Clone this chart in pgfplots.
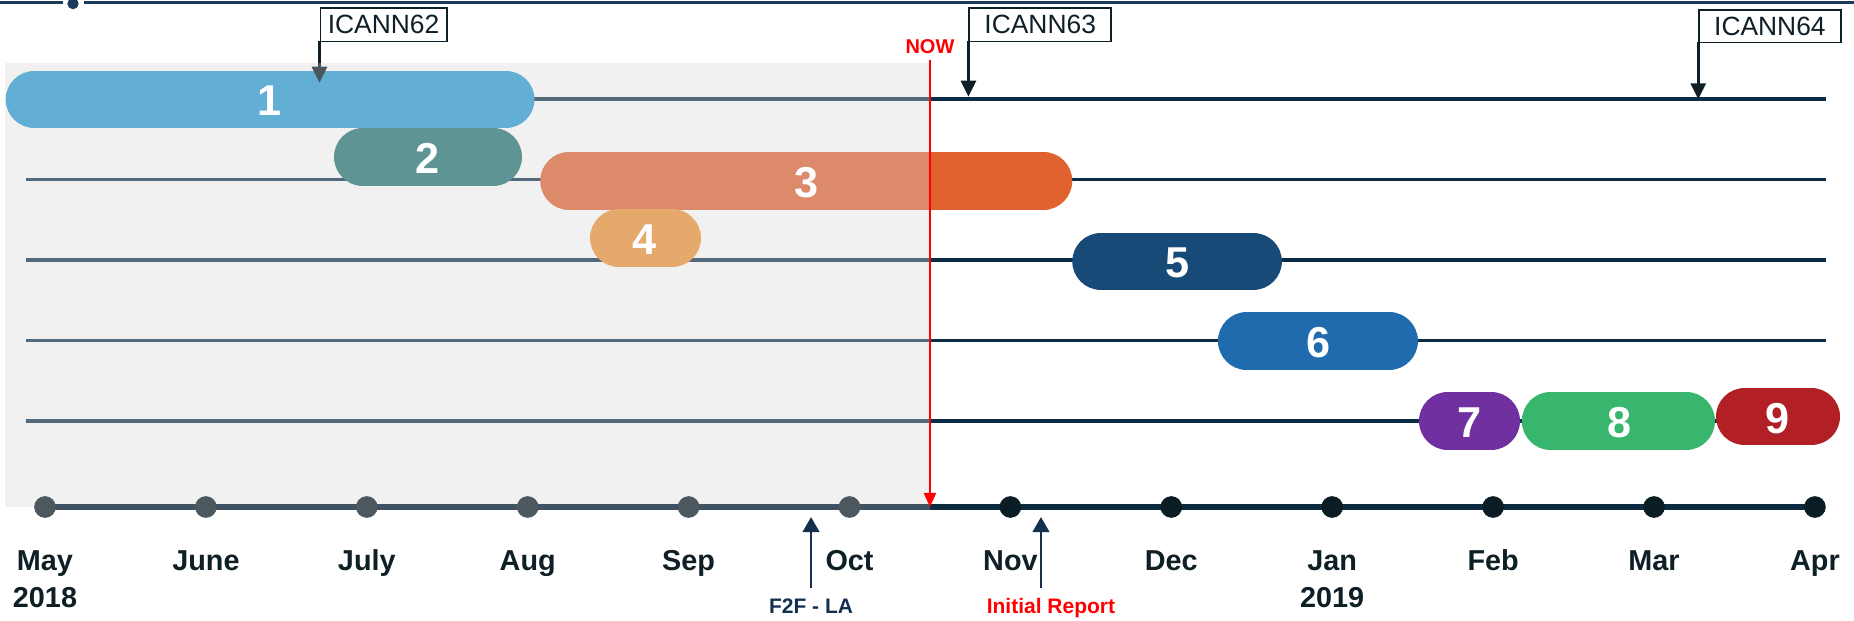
\documentclass[border=0pt]{standalone}
\usepackage{pgfplots}
\pgfplotsset{compat=1.18}
\usepackage{fontspec}
\setmainfont{Liberation Sans}
\usetikzlibrary{arrows.meta}
\definecolor{shade}{HTML}{F1F1F1}
\definecolor{c1}{HTML}{63AED4}
\definecolor{c2}{HTML}{5E9494}
\definecolor{c3l}{HTML}{DC8A69}
\definecolor{c3d}{HTML}{E0622E}
\definecolor{c4}{HTML}{E5A96B}
\definecolor{c5}{HTML}{184A78}
\definecolor{c6}{HTML}{1F6BAE}
\definecolor{c7}{HTML}{7030A0}
\definecolor{c8}{HTML}{38B66D}
\definecolor{c9}{HTML}{B22026}
\definecolor{rowlight}{HTML}{536A7C}
\definecolor{rowdark}{HTML}{0B2C47}
\definecolor{axislight}{HTML}{3F5261}
\definecolor{axisdark}{HTML}{0C2A40}
\definecolor{dotlight}{HTML}{4D585E}
\definecolor{dotdark}{HTML}{0A1D24}
\definecolor{labelc}{HTML}{0E1F26}
\definecolor{f2fc}{HTML}{13304F}
\definecolor{boxc}{HTML}{0F1F28}
\definecolor{arrgray}{HTML}{4A565E}
\definecolor{topc}{HTML}{1B3A5C}
\definecolor{nowc}{HTML}{FF0000}
\tikzset{
  gbar/.style={line width=28.75pt, line cap=round},
  mon/.style={anchor=base, text=labelc, font=\bfseries\fontsize{14.4}{16}\selectfont},
  num/.style={anchor=center, text=white, font=\bfseries\fontsize{21.6}{24}\selectfont},
  icann/.style={draw=boxc, line width=0.8pt, fill=white, minimum height=16.7pt, inner sep=0pt,
     anchor=north west, text=boxc, font=\fontsize{13.2}{15}\selectfont},
}
\begin{document}
\begin{tikzpicture}
\begin{axis}[
  width=927pt, height=310.5pt, scale only axis,
  xmin=-0.2797, xmax=11.2430, ymin=-0.235, ymax=7.489, y dir=reverse,
  hide axis, clip=true,
]
% top decoration
\addplot[line width=1.5pt, topc, no marks] coordinates {(-0.2797,-0.2015) (0.112,-0.2015)};
\addplot[line width=1.5pt, topc, no marks] coordinates {(0.242,-0.2015) (11.243,-0.2015)};
\addplot[only marks, mark=*, mark size=2.6pt, topc] coordinates {(0.174,-0.19)};
% past shading
\addplot[fill=shade, draw=none, no marks] coordinates {(-0.25,0.545) (5.5,0.545) (5.5,6.071) (-0.25,6.071)} -- cycle;
% row lines
\addplot[line width=1.8pt, rowlight, no marks] coordinates {(2.8,1) (5.5,1)};
\addplot[line width=1.8pt, rowdark, no marks] coordinates {(5.5,1) (11.069,1)};
\addplot[line width=1.8pt, rowlight, no marks] coordinates {(-0.118,2) (5.5,2)};
\addplot[line width=1.8pt, rowdark, no marks] coordinates {(5.5,2) (11.069,2)};
\addplot[line width=1.8pt, rowlight, no marks] coordinates {(-0.118,3) (5.5,3)};
\addplot[line width=1.8pt, rowdark, no marks] coordinates {(5.5,3) (11.069,3)};
\addplot[line width=1.8pt, rowlight, no marks] coordinates {(-0.118,4) (5.5,4)};
\addplot[line width=1.8pt, rowdark, no marks] coordinates {(5.5,4) (11.069,4)};
\addplot[line width=1.8pt, rowlight, no marks] coordinates {(-0.118,5) (5.5,5)};
\addplot[line width=1.8pt, rowdark, no marks] coordinates {(5.5,5) (11.069,5)};
% time axis
\addplot[line width=2.6pt, axislight, no marks] coordinates {(0,6.071) (5.5,6.071)};
\addplot[line width=2.6pt, axisdark, no marks] coordinates {(5.5,6.071) (11,6.071)};
\addplot[only marks, mark=*, mark size=5.2pt, dotlight] coordinates {(0,6.071) (1,6.071) (2,6.071) (3,6.071) (4,6.071) (5,6.071)};
\addplot[only marks, mark=*, mark size=5.2pt, dotdark] coordinates {(6,6.071) (7,6.071) (8,6.071) (9,6.071) (10,6.071) (11,6.071)};
% bars (centre line of each rounded bar)
\addplot[gbar, c1, no marks] coordinates {(-0.0656,1) (2.8636,1)};
\addplot[gbar, c2, no marks] coordinates {(1.9748,1.718) (2.7859,1.718)};
\addplot[gbar, c3l, no marks] coordinates {(3.2564,2.014) (5.5,2.014)};
\addplot[gbar, c3d, no marks] coordinates {(5.6787,2.014) (6.2060,2.014)};
\addplot[line width=28.75pt, line cap=butt, c3d, no marks] coordinates {(5.5,2.014) (5.68,2.014)};
\addplot[gbar, c4, no marks] coordinates {(3.5659,2.728) (3.8984,2.728)};
\addplot[gbar, c5, no marks] coordinates {(6.5634,3.015) (7.5086,3.015)};
\addplot[gbar, c6, no marks] coordinates {(7.4686,4.006) (8.3543,4.006)};
\addplot[gbar, c7, no marks] coordinates {(8.7179,5) (8.9885,5)};
\addplot[gbar, c8, no marks] coordinates {(9.3571,5) (10.2004,5)};
\addplot[gbar, c9, no marks] coordinates {(10.5640,4.948) (10.9773,4.948)};
% bar numbers
\node[num] at (axis cs:1.396,1.02) {1};
\node[num] at (axis cs:2.380,1.738) {2};
\node[num] at (axis cs:4.730,2.034) {3};
\node[num] at (axis cs:3.729,2.748) {4};
\node[num] at (axis cs:7.038,3.035) {5};
\node[num] at (axis cs:7.913,4.026) {6};
\node[num] at (axis cs:8.853,5.02) {7};
\node[num] at (axis cs:9.784,5.02) {8};
\node[num] at (axis cs:10.769,4.968) {9};
% ICANN markers
\draw[line width=1.4pt, boxc] (axis cs:1.706,0.271) -- (axis cs:1.706,0.545);
\draw[-{Triangle[width=7.5pt,length=8pt]}, line width=1.4pt, arrgray] (axis cs:1.706,0.545) -- (axis cs:1.706,0.794);
\draw[-{Triangle[width=7.5pt,length=8pt]}, line width=1.4pt, boxc] (axis cs:5.739,0.271) -- (axis cs:5.739,0.968);
\draw[-{Triangle[width=7.5pt,length=8pt]}, line width=1.4pt, boxc] (axis cs:10.275,0.284) -- (axis cs:10.275,1.0);
\node[icann, minimum width=63.25pt] at (axis cs:1.706,-0.144) {ICANN62};
\node[icann, minimum width=71pt] at (axis cs:5.739,-0.144) {ICANN63};
\node[icann, minimum width=70.85pt, minimum height=16.2pt] at (axis cs:10.275,-0.119) {ICANN64};
% NOW
\draw[-{Triangle[width=6pt,length=7pt]}, line width=1pt, nowc] (axis cs:5.5,0.511) -- (axis cs:5.5,6.071);
\node[text=nowc, font=\bfseries\fontsize{10}{12}\selectfont] at (axis cs:5.5,0.346) {NOW};
% month labels
\node[mon] at (axis cs:0,6.855) {May};
\node[mon] at (axis cs:1,6.855) {June};
\node[mon] at (axis cs:2,6.855) {July};
\node[mon] at (axis cs:3,6.855) {Aug};
\node[mon] at (axis cs:4,6.855) {Sep};
\node[mon] at (axis cs:5,6.855) {Oct};
\node[mon] at (axis cs:6,6.855) {Nov};
\node[mon] at (axis cs:7,6.855) {Dec};
\node[mon] at (axis cs:8,6.855) {Jan};
\node[mon] at (axis cs:9,6.855) {Feb};
\node[mon] at (axis cs:10,6.855) {Mar};
\node[mon] at (axis cs:11,6.855) {Apr};
\node[mon] at (axis cs:0,7.315) {2018};
\node[mon] at (axis cs:8,7.315) {2019};
% milestones below the axis
\draw[-{Triangle[width=8.3pt,length=7.5pt]}, line width=1.1pt, f2fc] (axis cs:4.761,7.079) -- (axis cs:4.761,6.196);
\draw[-{Triangle[width=8.3pt,length=7.5pt]}, line width=1.1pt, f2fc] (axis cs:6.190,7.079) -- (axis cs:6.190,6.196);
\node[anchor=base, text=f2fc, font=\bfseries\fontsize{10.5}{12}\selectfont] at (axis cs:4.761,7.394) {F2F - LA};
\node[anchor=base, text=nowc, font=\bfseries\fontsize{10.5}{12}\selectfont] at (axis cs:6.252,7.394) {Initial Report};
\end{axis}
\pgfresetboundingbox
\path[use as bounding box] (current axis.south west) rectangle (current axis.north east);
\end{tikzpicture}
\end{document}
